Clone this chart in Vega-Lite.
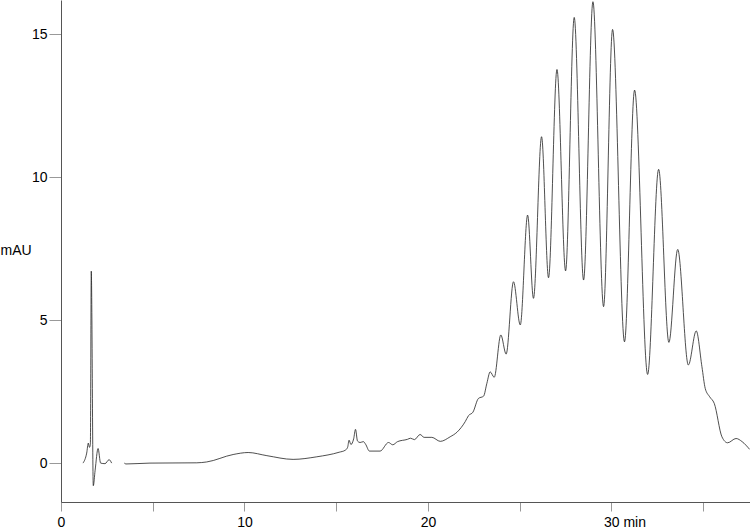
{
  "$schema": "https://vega.github.io/schema/vega-lite/v6.json",
  "autosize": {"type": "none"},
  "width": 689,
  "height": 502,
  "padding": {"left": 61, "top": 0, "right": 0, "bottom": 25},
  "background": "white",
  "config": {
    "view": {"stroke": null},
    "font": "Liberation Sans",
    "axis": {"labelFont": "Liberation Sans", "titleFont": "Liberation Sans", "labelColor": "#000", "titleColor": "#000", "grid": false}
  },
  "data": {
    "values": [
      {"t": 1.20, "v": 0.0, "seg": 1},
      {"t": 1.40, "v": 0.35, "seg": 1},
      {"t": 1.49, "v": 0.70, "seg": 1},
      {"t": 1.55, "v": 0.55, "seg": 1},
      {"t": 1.60, "v": 0.65, "seg": 1},
      {"t": 1.65, "v": 6.71, "seg": 1},
      {"t": 1.76, "v": -0.79, "seg": 1},
      {"t": 1.86, "v": -0.25, "seg": 1},
      {"t": 2.02, "v": 0.51, "seg": 1},
      {"t": 2.16, "v": 0.0, "seg": 1},
      {"t": 2.40, "v": -0.02, "seg": 1},
      {"t": 2.62, "v": 0.12, "seg": 1},
      {"t": 2.76, "v": 0.0, "seg": 1},
      {"t": 3.45, "v": 0.0, "seg": 2},
      {"t": 3.54, "v": -0.03, "seg": 2},
      {"t": 4.85, "v": 0.0, "seg": 2},
      {"t": 7.40, "v": 0.01, "seg": 2},
      {"t": 7.94, "v": 0.04, "seg": 2},
      {"t": 9.38, "v": 0.30, "seg": 2},
      {"t": 10.20, "v": 0.37, "seg": 2},
      {"t": 11.22, "v": 0.26, "seg": 2},
      {"t": 12.65, "v": 0.13, "seg": 2},
      {"t": 13.94, "v": 0.22, "seg": 2},
      {"t": 15.16, "v": 0.38, "seg": 2},
      {"t": 15.49, "v": 0.45, "seg": 2},
      {"t": 15.62, "v": 0.55, "seg": 2},
      {"t": 15.70, "v": 0.80, "seg": 2},
      {"t": 15.80, "v": 0.65, "seg": 2},
      {"t": 15.95, "v": 0.85, "seg": 2},
      {"t": 16.05, "v": 1.18, "seg": 2},
      {"t": 16.16, "v": 0.77, "seg": 2},
      {"t": 16.30, "v": 0.72, "seg": 2},
      {"t": 16.48, "v": 0.75, "seg": 2},
      {"t": 16.60, "v": 0.66, "seg": 2},
      {"t": 16.81, "v": 0.42, "seg": 2},
      {"t": 17.39, "v": 0.42, "seg": 2},
      {"t": 17.85, "v": 0.72, "seg": 2},
      {"t": 18.08, "v": 0.64, "seg": 2},
      {"t": 18.34, "v": 0.75, "seg": 2},
      {"t": 18.88, "v": 0.83, "seg": 2},
      {"t": 19.05, "v": 0.87, "seg": 2},
      {"t": 19.26, "v": 0.82, "seg": 2},
      {"t": 19.57, "v": 1.0, "seg": 2},
      {"t": 19.79, "v": 0.90, "seg": 2},
      {"t": 20.21, "v": 0.90, "seg": 2},
      {"t": 20.67, "v": 0.76, "seg": 2},
      {"t": 21.21, "v": 0.92, "seg": 2},
      {"t": 21.58, "v": 1.08, "seg": 2},
      {"t": 22.03, "v": 1.45, "seg": 2},
      {"t": 22.21, "v": 1.66, "seg": 2},
      {"t": 22.45, "v": 1.78, "seg": 2},
      {"t": 22.75, "v": 2.26, "seg": 2},
      {"t": 23.03, "v": 2.34, "seg": 2},
      {"t": 23.21, "v": 2.79, "seg": 2},
      {"t": 23.39, "v": 3.19, "seg": 2},
      {"t": 23.61, "v": 3.0, "seg": 2},
      {"t": 23.97, "v": 4.48, "seg": 2},
      {"t": 24.26, "v": 3.81, "seg": 2},
      {"t": 24.66, "v": 6.34, "seg": 2},
      {"t": 25.03, "v": 4.83, "seg": 2},
      {"t": 25.43, "v": 8.67, "seg": 2},
      {"t": 25.75, "v": 5.76, "seg": 2},
      {"t": 26.19, "v": 11.41, "seg": 2},
      {"t": 26.57, "v": 6.48, "seg": 2},
      {"t": 27.03, "v": 13.76, "seg": 2},
      {"t": 27.50, "v": 6.72, "seg": 2},
      {"t": 27.97, "v": 15.58, "seg": 2},
      {"t": 28.48, "v": 6.40, "seg": 2},
      {"t": 28.99, "v": 16.13, "seg": 2},
      {"t": 29.57, "v": 5.47, "seg": 2},
      {"t": 30.06, "v": 15.16, "seg": 2},
      {"t": 30.71, "v": 4.24, "seg": 2},
      {"t": 31.26, "v": 13.04, "seg": 2},
      {"t": 31.97, "v": 3.10, "seg": 2},
      {"t": 32.57, "v": 10.27, "seg": 2},
      {"t": 33.13, "v": 4.22, "seg": 2},
      {"t": 33.61, "v": 7.47, "seg": 2},
      {"t": 34.19, "v": 3.43, "seg": 2},
      {"t": 34.62, "v": 4.62, "seg": 2},
      {"t": 34.93, "v": 3.37, "seg": 2},
      {"t": 35.11, "v": 2.61, "seg": 2},
      {"t": 35.35, "v": 2.32, "seg": 2},
      {"t": 35.60, "v": 2.09, "seg": 2},
      {"t": 36.02, "v": 0.92, "seg": 2},
      {"t": 36.33, "v": 0.71, "seg": 2},
      {"t": 36.79, "v": 0.86, "seg": 2},
      {"t": 37.12, "v": 0.75, "seg": 2},
      {"t": 37.53, "v": 0.48, "seg": 2}
    ]
  },
  "mark": {"type": "line", "interpolate": "monotone", "color": "#222", "strokeWidth": 0.8, "clip": true},
  "encoding": {
    "x": {
      "field": "t", "type": "quantitative",
      "scale": {"domain": [0, 37.55], "nice": false, "zero": false},
      "axis": {
        "title": null,
        "values": [0, 5, 10, 15, 20, 25, 30, 35],
        "tickSize": 9, "tickColor": "#999", "domainColor": "#555", "domainWidth": 1,
        "labelFontSize": 14, "labelPadding": 4, "labelFlush": false,
        "labelExpr": "datum.value == 30 ? '30 min' : (datum.value % 10 == 0 ? datum.label : '')",
        "labelAlign": {"expr": "datum.value == 30 ? 'left' : 'center'"},
        "labelOffset": {"expr": "datum.value == 30 ? -8 : 0"}
      }
    },
    "y": {
      "field": "v", "type": "quantitative",
      "scale": {"domain": [-1.36, 16.19], "nice": false, "zero": false},
      "axis": {
        "title": "mAU",
        "titleAngle": 0, "titleAlign": "left", "titleBaseline": "middle",
        "titleX": -61, "titleY": 250, "titleFontSize": 14, "titleFontWeight": "normal",
        "values": [0, 5, 10, 15],
        "tickSize": 12, "tickColor": "#999", "domainColor": "#555", "domainWidth": 1,
        "labelFontSize": 14, "labelPadding": 2, "labelFlush": false
      }
    },
    "detail": {"field": "seg", "type": "nominal"}
  }
}
